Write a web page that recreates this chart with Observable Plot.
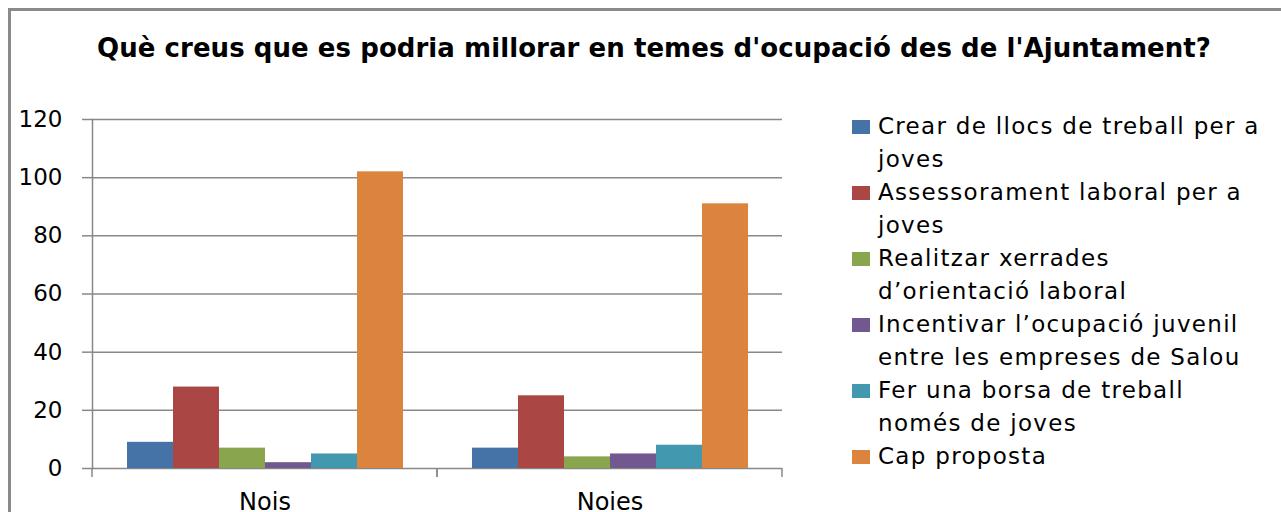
<!DOCTYPE html>
<html><head><meta charset="utf-8">
<script src="https://cdn.jsdelivr.net/npm/d3@7"></script>
<script src="https://cdn.jsdelivr.net/npm/@observablehq/plot@0.6"></script>
<style>
html,body{margin:0;padding:0;background:#fff;overflow:hidden}
#root{position:relative;width:1281px;height:512px;overflow:hidden;font-family:"DejaVu Sans",sans-serif;background:#fff}
#border{position:absolute;left:8px;top:8px;width:1400px;height:700px;border-left:3px solid #8a8a8a;border-top:3px solid #8a8a8a}
#title{position:absolute;left:654px;top:35px;transform:translateX(-50%);font-weight:bold;font-size:26px;line-height:26px;white-space:nowrap;color:#000}
#legend{position:absolute;left:852px;top:110px;font-size:23px;line-height:33px;letter-spacing:1.3px;color:#000;white-space:nowrap}
.item{position:relative;padding-left:26px}
.sw{position:absolute;left:0;top:10px;width:18px;height:14px}
#plot{position:absolute;left:0;top:100px}
</style></head>
<body>
<div id="root">
  <div id="border"></div>
  <div id="title"></div>
  <div id="plot"></div>
  <div id="legend"></div>
</div>
<script>
const titleText = "Què creus que es podria millorar en temes d'ocupació des de l'Ajuntament?";
const groups = ["Nois", "Noies"];
const seriesLines = [
  ["Crear de llocs de treball per a", "joves"],
  ["Assessorament laboral per a", "joves"],
  ["Realitzar xerrades", "d’orientació laboral"],
  ["Incentivar l’ocupació juvenil", "entre les empreses de Salou"],
  ["Fer una borsa de treball", "només de joves"],
  ["Cap proposta"]
];
const series = seriesLines.map(l => l.join(" "));
const colors = ["#4572A7", "#AA4643", "#89A54E", "#71588F", "#4198AF", "#DB843D"];
const valuesNois = [9, 28, 7, 2, 5, 102];
const valuesNoies = [7, 25, 4, 5, 8, 91];
const yTicks = [0, 20, 40, 60, 80, 100, 120];

const rows = [];
series.forEach((s, i) => {
  rows.push({group: "Nois", series: s, value: valuesNois[i]});
  rows.push({group: "Noies", series: s, value: valuesNoies[i]});
});

const gridColor = "#888888";

const chart = Plot.plot({
  width: 800,
  height: 412,
  marginLeft: 92,
  marginRight: 18,
  marginTop: 19,
  marginBottom: 44,
  style: {fontFamily: "DejaVu Sans", background: "transparent", overflow: "visible"},
  fx: {domain: groups, padding: 0, label: null},
  x: {domain: series, paddingInner: 0, paddingOuter: 0.75, axis: null},
  y: {domain: [0, 120], label: null},
  color: {domain: series, range: colors},
  marks: [
    Plot.gridY(yTicks, {stroke: gridColor, strokeOpacity: 1, strokeWidth: 1.5}),
    Plot.barY(rows, {fx: "group", x: "series", y: "value", fill: "series"}),
    Plot.axisY(yTicks, {label: null, tickSize: 10, tickPadding: 20, fontSize: 23, stroke: gridColor, fill: "black", strokeWidth: 1.5, strokeOpacity: 1}),
    Plot.axisFx({anchor: "bottom", label: null, tickSize: 0, tickPadding: 24, fontSize: 24, fill: "black"}),
    Plot.frame({anchor: "left", facetAnchor: "left", stroke: gridColor, strokeWidth: 1.5}),
    (index, scales, values, dims) => {
      const g = d3.create("svg:g");
      const y0 = scales.y(0);
      const xl = dims.marginLeft, xr = dims.width - dims.marginRight;
      for (const x of [xl, xr]) {
        g.append("line").attr("x1", x).attr("x2", x).attr("y1", y0).attr("y2", y0 + 9)
          .attr("stroke", gridColor).attr("stroke-width", 1.5);
      }
      return g.node();
    }
  ]
});
document.getElementById("plot").appendChild(chart);

// title, fitted to the reference width
const t = document.getElementById("title");
t.textContent = titleText;
const w = t.getBoundingClientRect().width;
t.style.letterSpacing = ((1114 - w) / titleText.length) + "px";

// legend
const legend = d3.select("#legend");
seriesLines.forEach((lines, i) => {
  const it = legend.append("div").attr("class", "item");
  it.append("div").attr("class", "sw").style("background", colors[i]);
  lines.forEach(l => it.append("div").text(l));
});
</script>
</body></html>
